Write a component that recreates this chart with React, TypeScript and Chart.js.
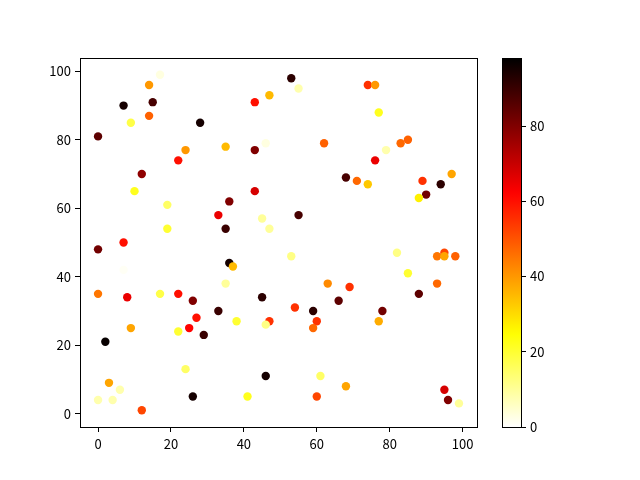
import React, { useEffect, useRef } from "react";
import { Chart, registerables } from "chart.js";

Chart.register(...registerables);

const xs = [17, 14, 7, 15, 14, 9, 28, 0, 24, 22, 12, 10, 19, 19, 7, 35, 43, 47, 46, 43, 43, 36, 33, 45, 47, 35,
  53, 55, 74, 76, 77, 62, 83, 85, 79, 76, 68, 71, 74, 89, 94, 97, 90, 88, 55,
  0, 7, 0, 8, 17, 22, 26, 27, 25, 22, 29, 33, 9, 2, 36, 37, 35, 45, 38, 47, 46, 24, 3, 6, 0, 4, 12, 26, 41, 46,
  53, 82, 85, 93, 95, 95, 98, 93, 88, 63, 69, 66, 54, 59, 60, 59, 78, 77, 61, 68, 60, 95, 96, 99];
const ys = [99, 96, 90, 91, 87, 85, 85, 81, 77, 74, 70, 65, 61, 54, 50, 78, 91, 93, 79, 77, 65, 62, 58, 57, 54, 54,
  98, 95, 96, 96, 88, 79, 79, 80, 77, 74, 69, 68, 67, 68, 67, 70, 64, 63, 58,
  48, 42, 35, 34, 35, 35, 33, 28, 25, 24, 23, 30, 25, 21, 44, 43, 38, 34, 27, 27, 26, 13, 9, 7, 4, 4, 1, 5, 5, 11,
  46, 47, 41, 46, 47, 46, 46, 38, 35, 38, 37, 33, 31, 30, 27, 25, 30, 27, 11, 8, 5, 7, 4, 3];
const cs = [3, 40, 95, 88, 48, 18, 95, 85, 40, 60, 78, 22, 15, 20, 60, 35, 60, 35, 3, 80, 68, 80, 65, 10, 10, 90,
  92, 8, 55, 40, 22, 48, 47, 48, 8, 65, 88, 47, 33, 55, 92, 38, 82, 27, 88,
  82, 1, 45, 65, 18, 60, 80, 60, 62, 20, 90, 90, 38, 97, 95, 35, 10, 92, 20, 55, 12, 15, 38, 8, 8, 8, 52, 95, 22, 95,
  12, 12, 20, 45, 52, 38, 48, 47, 85, 42, 55, 85, 55, 92, 55, 47, 82, 37, 15, 38, 52, 68, 80, 10];

const xTicks = [0, 20, 40, 60, 80, 100];
const yTicks = [0, 20, 40, 60, 80, 100];
const cTicks = [0, 20, 40, 60, 80];
const cMin = 0;
const cMax = 98;

function hotR(v: number): string {
  const t = Math.min(1, Math.max(0, (v - cMin) / (cMax - cMin)));
  const s = 1 - t;
  const r = Math.min(1, s / 0.365079);
  const g = Math.min(1, Math.max(0, (s - 0.365079) / (0.746032 - 0.365079)));
  const b = Math.min(1, Math.max(0, (s - 0.746032) / (1 - 0.746032)));
  return `rgb(${Math.round(r * 255)},${Math.round(g * 255)},${Math.round(b * 255)})`;
}

const FONT = { family: "'Noto Sans CJK SC', 'DejaVu Sans', sans-serif", size: 13 };

const boxPlugin = {
  id: "box",
  afterDraw(chart: any) {
    const { ctx, chartArea: a } = chart;
    ctx.save();
    ctx.strokeStyle = "#000";
    ctx.lineWidth = 1;
    ctx.strokeRect(Math.round(a.left) + 0.5, Math.round(a.top) + 0.5, Math.round(a.right - a.left), Math.round(a.bottom - a.top));
    ctx.restore();
  },
};

const gradientPlugin = {
  id: "cbar",
  beforeDatasetsDraw(chart: any) {
    const { ctx, chartArea: a } = chart;
    const y = chart.scales.y;
    const y0 = y.getPixelForValue(cMin);
    const y1 = y.getPixelForValue(cMax);
    const grad = ctx.createLinearGradient(0, y0, 0, y1);
    const n = 64;
    for (let i = 0; i <= n; i++) {
      grad.addColorStop(i / n, hotR(cMin + ((cMax - cMin) * i) / n));
    }
    ctx.save();
    ctx.fillStyle = grad;
    ctx.fillRect(a.left, y1, a.right - a.left, y0 - y1);
    ctx.restore();
  },
};

export default function App() {
  const mainRef = useRef<HTMLCanvasElement>(null);
  const barRef = useRef<HTMLCanvasElement>(null);

  useEffect(() => {
    const points = xs.map((x, i) => ({ x, y: ys[i] }));
    const colors = cs.map((c) => hotR(c));
    const main = new Chart(mainRef.current!, {
      type: "scatter",
      data: {
        datasets: [
          {
            data: points,
            backgroundColor: colors,
            pointBackgroundColor: colors,
            pointBorderWidth: 0,
            pointRadius: 4.2,
            pointHoverRadius: 4.2,
          } as any,
        ],
      },
      options: {
        animation: false,
        responsive: false,
        devicePixelRatio: 1,
        layout: { padding: { left: 0, top: 58, right: 163, bottom: 0 } },
        plugins: { legend: { display: false }, tooltip: { enabled: false } },
        scales: {
          x: {
            type: "linear",
            min: -4.95,
            max: 103.95,
            afterBuildTicks: (s: any) => { s.ticks = xTicks.map((v) => ({ value: v })); },
            afterFit: (s: any) => { s.height = 53; },
            grid: { display: true, drawOnChartArea: false, drawTicks: true, tickLength: 5, tickColor: "#000" },
            border: { display: true, color: "#000" },
            ticks: { color: "#000", font: FONT, padding: 4, maxRotation: 0 },
          },
          y: {
            type: "linear",
            min: -3.9,
            max: 103.9,
            afterBuildTicks: (s: any) => { s.ticks = yTicks.map((v) => ({ value: v })); },
            afterFit: (s: any) => { s.width = 80; },
            grid: { display: true, drawOnChartArea: false, drawTicks: true, tickLength: 5, tickColor: "#000" },
            border: { display: true, color: "#000" },
            ticks: { color: "#000", font: FONT, padding: 4 },
          },
        },
      },
      plugins: [boxPlugin],
    });

    const bar = new Chart(barRef.current!, {
      type: "scatter",
      data: { datasets: [{ data: [] }] },
      options: {
        animation: false,
        responsive: false,
        devicePixelRatio: 1,
        layout: { padding: { left: 502, top: 58, right: 0, bottom: 53 } },
        plugins: { legend: { display: false }, tooltip: { enabled: false } },
        scales: {
          x: { type: "linear", display: false, min: 0, max: 1 },
          y: {
            type: "linear",
            position: "right",
            min: cMin,
            max: cMax + 0.1,
            afterBuildTicks: (s: any) => { s.ticks = cTicks.map((v) => ({ value: v })); },
            afterFit: (s: any) => { s.width = 119; },
            grid: { display: true, drawOnChartArea: false, drawTicks: true, tickLength: 5, tickColor: "#000" },
            border: { display: false },
            ticks: { color: "#000", font: FONT, padding: 4 },
          },
        },
      },
      plugins: [gradientPlugin, boxPlugin],
    });

    return () => {
      main.destroy();
      bar.destroy();
    };
  }, []);

  return (
    <div style={{ position: "fixed", left: 0, top: 0, width: 640, height: 480, background: "#fff" }}>
      <canvas ref={mainRef} width={640} height={480} style={{ position: "absolute", left: 0, top: 0, width: 640, height: 480 }} />
      <canvas ref={barRef} width={640} height={480} style={{ position: "absolute", left: 0, top: 0, width: 640, height: 480 }} />
    </div>
  );
}
